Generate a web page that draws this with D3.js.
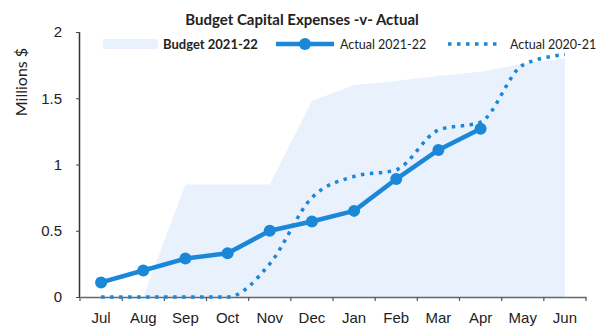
<!DOCTYPE html>
<html>
<head>
<meta charset="utf-8">
<script src="https://cdn.jsdelivr.net/npm/d3@7"></script>
<style>
  html, body { margin: 0; padding: 0; background: #fff; }
  svg { display: block; font-family: Lato, "Open Sans", sans-serif; }
</style>
</head>
<body>
<svg id="chart" width="609" height="332"></svg>
<script>
// Monthly categories for the financial year
const months = ["Jul", "Aug", "Sep", "Oct", "Nov", "Dec", "Jan", "Feb", "Mar", "Apr", "May", "Jun"];
// Cumulative capital expenses, millions of dollars
const budget2122 = [0, 0, 0.85, 0.85, 0.85, 1.48, 1.6, 1.63, 1.67, 1.7, 1.76, 1.8];
const actual2122 = [0.11, 0.2, 0.29, 0.33, 0.5, 0.57, 0.65, 0.89, 1.11, 1.27];
const actual2021 = [0, 0, 0, 0, 0.25, 0.75, 0.91, 0.96, 1.26, 1.32, 1.75, 1.83];
const yTicks = [0, 0.5, 1, 1.5, 2];
const yTickLabels = ["0", "0.5", "1", "1.5", "2"];

const blue = "#1b87d8";
const areaFill = "#e9f2fc";

const svg = d3.select("#chart");
const plotLeft = 80, plotRight = 586, plotTop = 32, plotBottom = 297;

const x = d3.scaleBand().domain(months).range([plotLeft, plotRight]);
const cx = m => x(m) + x.bandwidth() / 2;
const y = d3.scaleLinear().domain([0, 2]).range([plotBottom, plotTop]);

// Budget area
svg.append("path")
  .datum(budget2122.map((v, i) => ({ m: months[i], v })))
  .attr("fill", areaFill)
  .attr("d", d3.area().x(d => cx(d.m)).y0(y(0)).y1(d => y(d.v)));

// Y axis
const yAxis = svg.append("g")
  .attr("transform", `translate(${plotLeft},0)`)
  .call(d3.axisLeft(y).tickValues(yTicks).tickFormat((d, i) => yTickLabels[i]).tickSize(4).tickPadding(14));
yAxis.select(".domain").attr("stroke", "#333").attr("stroke-width", 1.5).attr("d", `M-0.5,${plotTop}V${plotBottom}`);
yAxis.selectAll(".tick line").attr("stroke", "#444");
yAxis.selectAll(".tick text").attr("font-size", 15).attr("fill", "#222");

// X axis: labels at band centres, ticks at band boundaries
const xAxis = svg.append("g")
  .attr("transform", `translate(0,${plotBottom})`)
  .call(d3.axisBottom(x).tickSize(0).tickPadding(15));
xAxis.select(".domain").attr("stroke", "#666").attr("stroke-width", 1.5);
xAxis.selectAll(".tick text").attr("font-size", 15).attr("fill", "#222");
const bounds = months.map(m => x(m)).concat([x.range()[1]]);
xAxis.selectAll(".bound").data(bounds).enter().append("line")
  .attr("x1", d => d).attr("x2", d => d).attr("y1", 0).attr("y2", 4)
  .attr("stroke", "#555").attr("stroke-width", 1.2);

// Actual 2020-21 (smoothed, dotted)
svg.append("path")
  .datum(actual2021.map((v, i) => ({ m: months[i], v })))
  .attr("fill", "none").attr("stroke", blue).attr("stroke-width", 3.5)
  .attr("stroke-dasharray", "3.5,5.5")
  .attr("d", d3.line().x(d => cx(d.m)).y(d => y(d.v)).curve(d3.curveMonotoneX));

// Actual 2021-22 line with markers
const a22 = actual2122.map((v, i) => ({ m: months[i], v }));
svg.append("path")
  .datum(a22)
  .attr("fill", "none").attr("stroke", blue).attr("stroke-width", 4.5)
  .attr("stroke-linejoin", "round")
  .attr("d", d3.line().x(d => cx(d.m)).y(d => y(d.v)));
svg.selectAll(".mk").data(a22).enter().append("circle")
  .attr("cx", d => cx(d.m)).attr("cy", d => y(d.v)).attr("r", 6).attr("fill", blue);

// Title
svg.append("text").attr("x", 302).attr("y", 25).attr("text-anchor", "middle")
  .attr("font-size", 15).attr("font-weight", "bold").attr("fill", "#222")
  .text("Budget Capital Expenses -v- Actual");

// Legend
const ly = 44;
const lg = svg.append("g").attr("font-size", 12.5).attr("fill", "#222");
lg.append("rect").attr("x", 103).attr("y", ly - 5).attr("width", 55).attr("height", 10).attr("fill", areaFill);
lg.append("text").attr("x", 163).attr("y", ly + 4.5).attr("font-weight", "bold").attr("font-size", 13).text("Budget 2021-22");
lg.append("line").attr("x1", 276).attr("x2", 334).attr("y1", ly).attr("y2", ly)
  .attr("stroke", blue).attr("stroke-width", 4.5);
lg.append("circle").attr("cx", 305).attr("cy", ly).attr("r", 6).attr("fill", blue);
lg.append("text").attr("x", 340).attr("y", ly + 4.5).text("Actual 2021-22");
lg.append("line").attr("x1", 448).attr("x2", 502).attr("y1", ly).attr("y2", ly)
  .attr("stroke", blue).attr("stroke-width", 3.5).attr("stroke-dasharray", "3.5,5.5");
lg.append("text").attr("x", 510).attr("y", ly + 4.5).text("Actual 2020-21");

// Y axis title
svg.append("text").attr("transform", "translate(27,82) rotate(-90)")
  .attr("text-anchor", "middle").attr("font-size", 16).attr("fill", "#222")
  .text("Millions $");
</script>
</body>
</html>
